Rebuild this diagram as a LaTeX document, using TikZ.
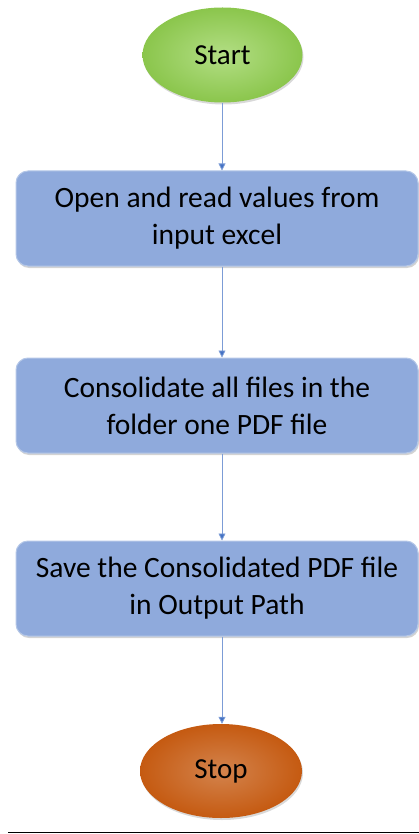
\documentclass[tikz,border=0pt]{standalone}
\usepackage{fontspec}
\setmainfont{Carlito}
\usetikzlibrary{shapes.geometric,arrows.meta,shadows}
\definecolor{boxblue}{HTML}{8FAADC}
\definecolor{boxedge}{HTML}{B4C7E7}
\definecolor{startgreen}{HTML}{92D050}
\definecolor{stoporange}{HTML}{C55A11}
\definecolor{arrowblue}{HTML}{4472C4}
\tikzset{
  procbox/.style={draw=boxedge, line width=1pt, fill=boxblue, rounded corners=12pt,
    minimum width=402pt, minimum height=95pt, align=center, inner sep=0pt,
    font=\fontsize{29.5}{37}\selectfont, drop shadow={shadow xshift=1pt, shadow yshift=-2pt, opacity=0.35}},
  termgreen/.style={ellipse, draw=none, inner color=startgreen!70!white, outer color=startgreen!95!black,
    minimum width=160pt, minimum height=95pt, font=\fontsize{29}{34}\selectfont, inner sep=0pt,
    drop shadow={shadow xshift=1pt, shadow yshift=-2pt, opacity=0.3}},
  termorange/.style={ellipse, draw=none, inner color=stoporange!75!white, outer color=stoporange,
    minimum width=162pt, minimum height=94pt, font=\fontsize{29}{34}\selectfont, inner sep=0pt,
    drop shadow={shadow xshift=1pt, shadow yshift=-2pt, opacity=0.3}},
  flowarrow/.style={draw=arrowblue!70!white, line width=0.8pt, -{Triangle[length=7pt,width=7pt,fill=arrowblue]}}
}
\begin{document}
\begin{tikzpicture}[x=1pt,y=-1pt]
\useasboundingbox (0,0) rectangle (419,834);
\node[termgreen] (start) at (222.5,55) {Start};
\node[procbox] (open) at (217,218.5) {Open and read values from\\input excel};
\node[procbox] (cons) at (217,405.5) {Consolidate all files in the\\folder one PDF file};
\node[procbox] (save) at (217,588.5) {Save the Consolidated PDF file\\in Output Path};
\node[termorange] (stop) at (221,771) {Stop};
\draw[flowarrow] (start.south -| 222,0) -- (open.north -| 222,0);
\draw[flowarrow] (open.south -| 222,0) -- (cons.north -| 222,0);
\draw[flowarrow] (cons.south -| 222,0) -- (save.north -| 222,0);
\draw[flowarrow] (save.south -| 222,0) -- (stop.north -| 222,0);
\coordinate (ruleL) at (8,832.5);
\coordinate (ruleR) at (419,832.5);
\draw[black, line width=1.2pt] (ruleL) -- (ruleR);
\end{tikzpicture}
\end{document}
